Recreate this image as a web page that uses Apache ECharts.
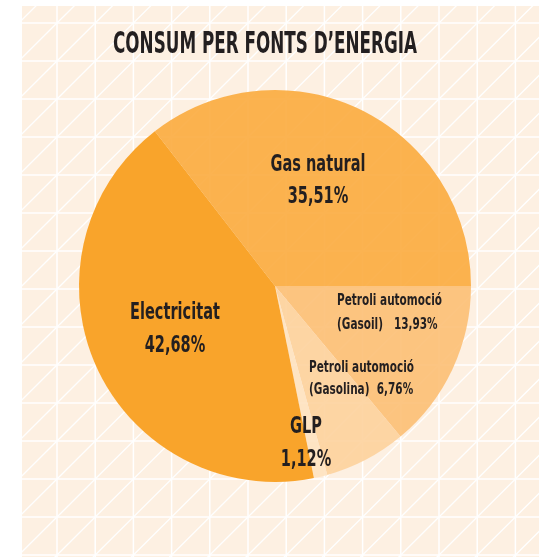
<!DOCTYPE html>
<html>
<head>
<meta charset="utf-8">
<script src="https://cdn.jsdelivr.net/npm/echarts@6/dist/echarts.min.js"></script>
<style>
  html, body { margin: 0; padding: 0; background: #fff; }
  #main { width: 539px; height: 557px; }
</style>
</head>
<body>
<div id="main"></div>
<script>
// dades: consum per fonts d'energia (%)
var categories = ['Gas natural', 'Petroli automoció (Gasoil)', 'Petroli automoció (Gasolina)', 'GLP', 'Electricitat'];
var shares = [35.51, 13.93, 6.76, 1.12, 42.68];
var sliceColors = ['#FBAB3E', '#FCBF74', '#FDD29C', '#FEE2C0', '#F9A42B'];

var FONT = "'DejaVu Sans Condensed', 'Liberation Sans Narrow', sans-serif";
var TEXT_COLOR = '#231F20';
var titleText = 'CONSUM PER FONTS D\u2019ENERGIA';

// posició de cada etiqueta: x, y de la primera i segona línia
var labelSpots = [
  { x: 318, y1: 165, y2: 197, align: 'center', big: true },
  { x: 337, y1: 301, y2: 325, align: 'left', big: false },
  { x: 309, y1: 368, y2: 390, align: 'left', big: false },
  { x: 306, y1: 427, y2: 460, align: 'center', big: true },
  { x: 175, y1: 313, y2: 346, align: 'center', big: true }
];

function pct(v) {
  return v.toFixed(2).replace('.', ',') + '%';
}

// fons amb quadrícula triangular
var panel = { x: 22, y: 6, w: 539 - 22, h: 557 - 6 };
var gx0 = 57, gdx = 38.2, gy0 = 23, gdy = 38;
var gfx = [{
  type: 'rect', z: 0, silent: true,
  shape: { x: panel.x, y: panel.y, width: panel.w, height: panel.h },
  style: { fill: '#FDF0E2' }
}];
var lineStyle = { stroke: '#ffffff', lineWidth: 1.5 };
for (var i = -1; gx0 + i * gdx < 539; i++) {
  var x = gx0 + i * gdx;
  if (x > panel.x) {
    gfx.push({ type: 'line', z: 0, silent: true, shape: { x1: x, y1: panel.y, x2: x, y2: 557 }, style: lineStyle });
  }
}
for (var j = -1; gy0 + j * gdy < 557; j++) {
  var y = gy0 + j * gdy;
  if (y > panel.y) {
    gfx.push({ type: 'line', z: 0, silent: true, shape: { x1: panel.x, y1: y, x2: 539, y2: y }, style: lineStyle });
  }
}
for (var a = -1; gx0 + a * gdx < 539; a++) {
  for (var b = -1; gy0 + b * gdy < 557; b++) {
    gfx.push({
      type: 'line', z: 0, silent: true,
      shape: { x1: gx0 + a * gdx, y1: gy0 + (b + 1) * gdy, x2: gx0 + (a + 1) * gdx, y2: gy0 + b * gdy },
      style: { stroke: '#ffffff', lineWidth: 1.3 }
    });
  }
}
// tapar el que surt del panell
gfx.push({ type: 'rect', z: 1, silent: true, shape: { x: 0, y: 0, width: panel.x, height: 557 }, style: { fill: '#fff' } });
gfx.push({ type: 'rect', z: 1, silent: true, shape: { x: 0, y: 0, width: 539, height: panel.y }, style: { fill: '#fff' } });

// text estret: la lletra s'escala en horitzontal
var cv = document.createElement('canvas').getContext('2d');
function squeeze(sample, size, target) {
  cv.font = 'bold ' + size + 'px ' + FONT;
  return target / cv.measureText(sample).width;
}
var titleScale = squeeze(titleText, 30, 304);
var bigSize = 23, smallSize = 15;
var bigScale = squeeze('Gas natural', bigSize, 95);
var smallScale = squeeze('Petroli automoció', smallSize, 105);

function textEl(str, x, y, size, scale, align) {
  return {
    type: 'text', z: 5, silent: true,
    x: x, y: y, scaleX: scale,
    style: {
      text: str, fill: TEXT_COLOR,
      font: 'bold ' + size + 'px ' + FONT,
      textAlign: align, textVerticalAlign: 'middle'
    }
  };
}

gfx.push(textEl(titleText, 265, 45, 30, titleScale, 'center'));

// etiquetes de cada porció
categories.forEach(function (name, k) {
  var s = labelSpots[k];
  var line1, line2;
  var m = name.match(/^(.*) (\(.*\))$/);
  if (m) {
    line1 = m[1];
    line2 = m[2] + (k === 1 ? '   ' : '  ') + pct(shares[k]);
  } else {
    line1 = name;
    line2 = pct(shares[k]);
  }
  var size = s.big ? bigSize : smallSize;
  var sc = s.big ? bigScale : smallScale;
  gfx.push(textEl(line1, s.x, s.y1, size, sc, s.align));
  gfx.push(textEl(line2, s.x, s.y2, size, sc, s.align));
});

var pieData = categories.map(function (name, k) {
  return {
    name: name,
    value: shares[k],
    itemStyle: { color: sliceColors[k], opacity: k === 4 ? 1 : 0.9 }
  };
});

var chart = echarts.init(document.getElementById('main'));
chart.setOption({
  animation: false,
  graphic: gfx,
  series: [{
    type: 'pie',
    z: 2,
    center: [275, 286],
    radius: [0, 196],
    startAngle: 127.8,
    clockwise: true,
    data: pieData,
    itemStyle: { borderWidth: 0 },
    label: { show: false },
    labelLine: { show: false }
  }]
});
</script>
</body>
</html>
